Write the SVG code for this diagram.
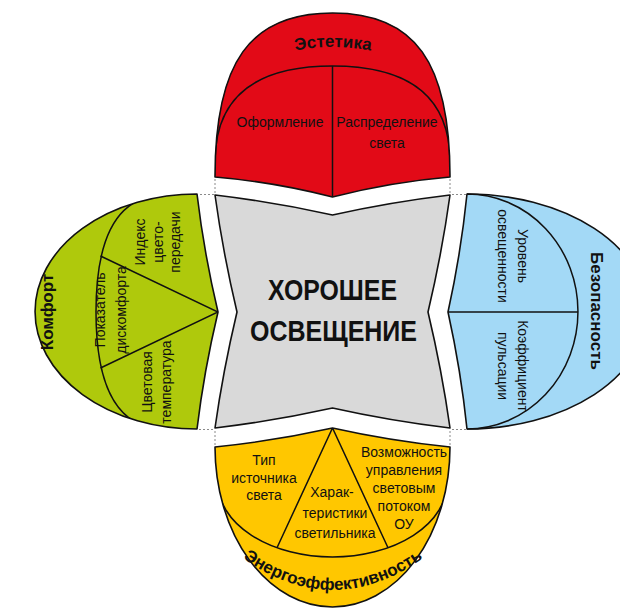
<svg xmlns="http://www.w3.org/2000/svg" width="620" height="610" viewBox="0 0 620 610">
<style>
.shape{stroke:#111;stroke-width:1.6;stroke-linejoin:round}
.line{fill:none;stroke:#111;stroke-width:1.5}
.guide{fill:none;stroke:#8a8a8a;stroke-width:1;stroke-dasharray:2,2}
.t{font-family:"Liberation Sans",Arial,sans-serif;font-size:14px;fill:#111}
.b{font-family:"Liberation Sans",Arial,sans-serif;font-size:17px;font-weight:bold;fill:#111}
.title{font-family:"Liberation Sans",Arial,sans-serif;font-size:30px;font-weight:bold;fill:#111}
</style>
<defs>
<path id="arcTop" d="M263,59 Q333,35 403,59"/>
<path id="arcBottom" d="M232,550 Q333,630 434,550"/>
<clipPath id="clipComfort"><path d="M197,194 A162,117.5 0 0 0 197,429 Q204,371 218,312 Q204,253 197,194 Z"/></clipPath>
<clipPath id="clipEnergy"><path d="M215,447 Q274,441 332.5,428 Q391,441 450,447 A117.5,160 0 0 1 215,447 Z"/></clipPath>
<clipPath id="clipAesthetics"><path d="M215,177 C215,62 250,13 332.5,13 C415,13 450,62 450,177 Q391,182 332.5,197 Q274,182 215,177 Z"/></clipPath>
</defs>
<rect width="620" height="610" fill="#ffffff"/>

<g id="guides">
<path class="guide" d="M215,179 V193 M200,194.5 H214 M450,179 V193 M452,194.5 H466 M199,429.5 H213 M215,431 V446 M452,429.5 H466 M450,431 V446"/>
</g>

<g id="center">
<path class="shape" fill="#D9D9D9" d="M215,195 Q274,202 332.5,215 Q391,202 450,195 Q442,253 428,312 Q442,371 450,428 Q391,421 332.5,408 Q274,421 215,428 Q223,371 237,312 Q223,253 215,195 Z"/>
<text class="title" x="268" y="300" textLength="129" lengthAdjust="spacingAndGlyphs">ХОРОШЕЕ</text>
<text class="title" x="250" y="341" textLength="167" lengthAdjust="spacingAndGlyphs">ОСВЕЩЕНИЕ</text>
</g>

<g id="aesthetics">
<path class="shape" fill="#E20A17" d="M215,177 C215,62 250,13 332.5,13 C415,13 450,62 450,177 Q391,182 332.5,197 Q274,182 215,177 Z"/>
<g clip-path="url(#clipAesthetics)">
<path class="line" d="M215,162 C215,90 265,66 332.5,66 C400,66 450,90 450,162"/>
<path class="line" d="M332.5,66 V197"/>
</g>
<text class="b"><textPath href="#arcTop" startOffset="50%" text-anchor="middle">Эстетика</textPath></text>
<text class="t" x="280" y="126.5" text-anchor="middle">Оформление</text>
<text class="t" x="387" y="126.5" text-anchor="middle">Распределение</text>
<text class="t" x="387" y="148" text-anchor="middle">света</text>
</g>

<g id="comfort">
<path class="shape" fill="#AFC90C" d="M197,194 A162,117.5 0 0 0 197,429 Q204,371 218,312 Q204,253 197,194 Z"/>
<g clip-path="url(#clipComfort)">
<path class="line" d="M165,195 C116,195 96,240 96,312 C96,384 116,429 165,429"/>
<path class="line" d="M100.5,256 L218,312 L100.5,368"/>
</g>
<text class="b" transform="translate(53,312) rotate(-90)" text-anchor="middle">Комфорт</text>
<text class="t" transform="translate(105,310) rotate(-90)" text-anchor="middle"><tspan x="0" y="0">Показатель</tspan><tspan x="0" y="21">дискомфорта</tspan></text>
<text class="t" transform="translate(145,242) rotate(-90)" text-anchor="middle"><tspan x="0" y="0">Индекс</tspan><tspan x="0" y="17.5">цвето-</tspan><tspan x="0" y="35">передачи</tspan></text>
<text class="t" transform="translate(152,382) rotate(-90)" text-anchor="middle"><tspan x="0" y="0">Цветовая</tspan><tspan x="0" y="19">температура</tspan></text>
</g>

<g id="safety">
<path class="shape" fill="#A3D9F6" d="M467,194 A180,117.5 0 0 1 467,429 Q461,371 448,312 Q461,253 467,194 Z"/>
<path class="line" d="M467,194 A111,117.5 0 0 1 467,429"/>
<path class="line" d="M448,312 H578"/>
<text class="b" transform="translate(591,311) rotate(90)" text-anchor="middle">Безопасность</text>
<text class="t" transform="translate(518,256) rotate(90)" text-anchor="middle"><tspan x="0" y="0">Уровень</tspan><tspan x="0" y="20">освещенности</tspan></text>
<text class="t" transform="translate(518,366) rotate(90)" text-anchor="middle"><tspan x="0" y="0">Коэффициент</tspan><tspan x="0" y="20">пульсации</tspan></text>
</g>

<g id="energy">
<path class="shape" fill="#FFC700" d="M215,447 Q274,441 332.5,428 Q391,441 450,447 A117.5,160 0 0 1 215,447 Z"/>
<g clip-path="url(#clipEnergy)">
<path class="line" d="M218,483 A114.5,74 0 0 0 447,483"/>
<path class="line" d="M277,547.7 L332.5,428 L388,547.7"/>
</g>
<text class="b"><textPath href="#arcBottom" startOffset="50%" text-anchor="middle">Энергоэффективность</textPath></text>
<text class="t" text-anchor="middle"><tspan x="264" y="465">Тип</tspan><tspan x="264" y="483">источника</tspan><tspan x="264" y="500">света</tspan></text>
<text class="t" text-anchor="middle"><tspan x="332" y="497">Харак-</tspan><tspan x="335" y="518">теристики</tspan><tspan x="335" y="538">светильника</tspan></text>
<text class="t" text-anchor="middle"><tspan x="404" y="457">Возможность</tspan><tspan x="404" y="475">управления</tspan><tspan x="404" y="493">световым</tspan><tspan x="404" y="511">потоком</tspan><tspan x="404" y="529">ОУ</tspan></text>
</g>
</svg>
